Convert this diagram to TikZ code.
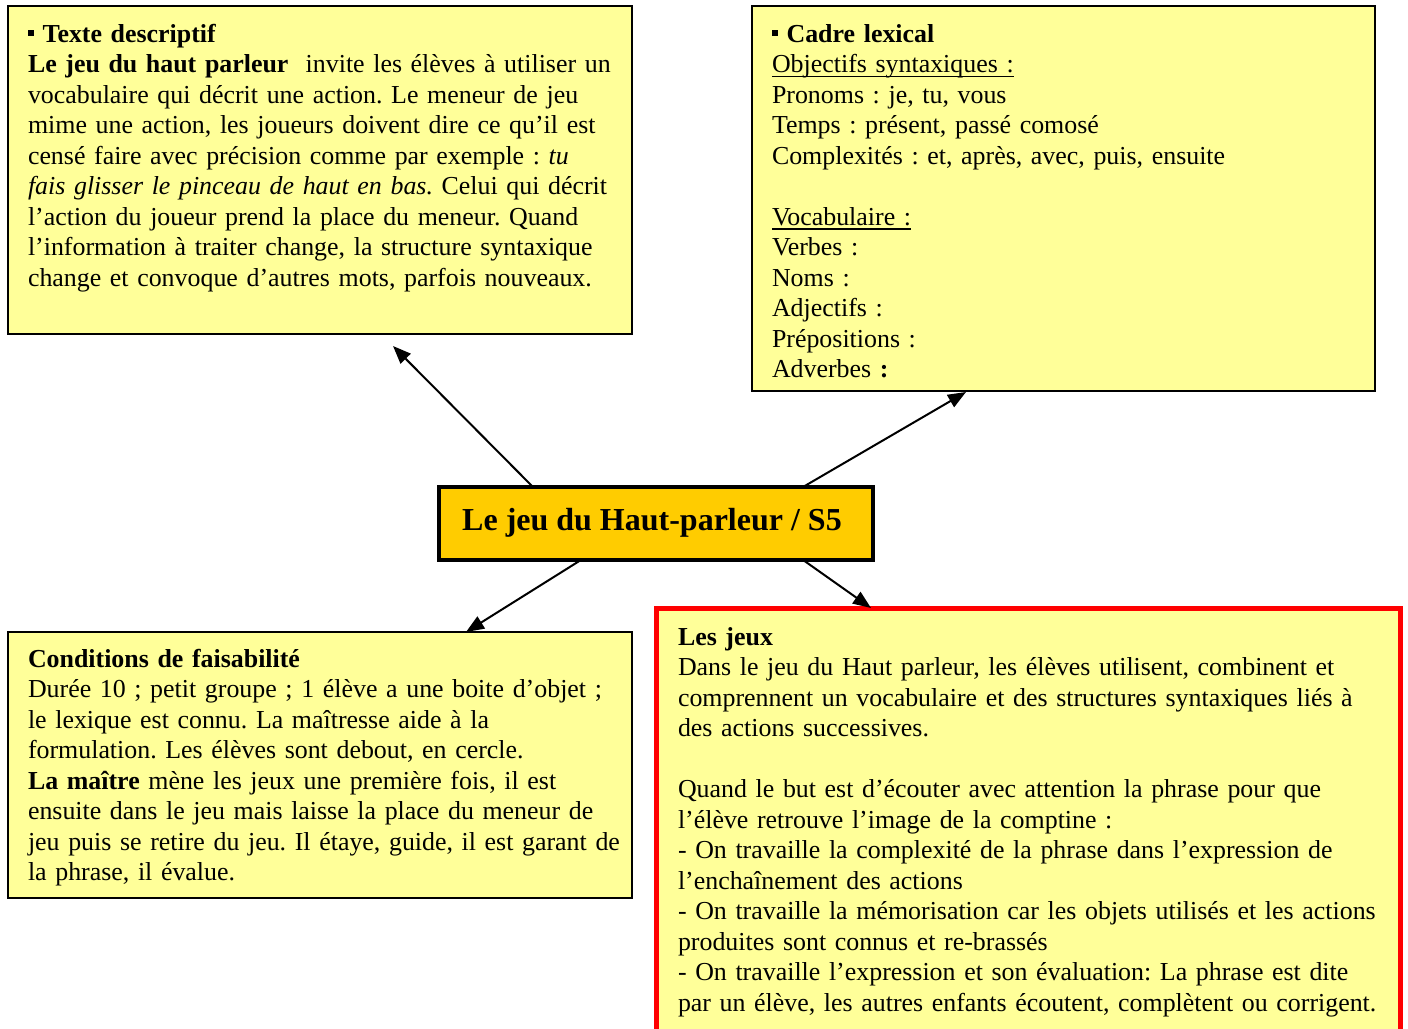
\documentclass[tikz,border=0pt]{standalone}
\usepackage{fontspec}
\setmainfont{Liberation Serif}
\usetikzlibrary{arrows.meta,calc}
\definecolor{paleyellow}{HTML}{FFFF99}
\definecolor{titlegold}{HTML}{FFCC00}
\definecolor{framered}{HTML}{FF0000}
\newdimen\myjw
\newcommand\mybody{\fontsize{25.9pt}{30.5pt}\selectfont\frenchspacing\spaceskip=0.25em plus 0.4em minus 0.08em\xspaceskip=\spaceskip\hyphenpenalty=10000\exhyphenpenalty=10000\tolerance=10000\relax}
\newcommand\mysq{\rule[0.25em]{0.23em}{0.23em}}
\newcommand\myul[1]{\setbox0\hbox{#1}\leavevmode\rlap{\rule[-4.6pt]{\wd0}{1.5pt}}\box0}
\newcommand\jl[1]{\par\hbox to\myjw{#1}}
\begin{document}
\begin{tikzpicture}[x=1pt,y=-1pt,
  panel/.style={draw=black, line width=2pt, fill=paleyellow, inner sep=0pt, outer sep=0pt, anchor=north west},
  body/.style={inner sep=0pt, outer sep=0pt, anchor=base west, text width=#1, font=\mybody},
  link/.style={line width=2pt, -{Triangle[length=18pt,width=14pt]}}
]
\useasboundingbox[fill=white] (0,0) rectangle (1408,1028);

% boxes
\node[panel, minimum width=624pt, minimum height=328pt] (b1) at (8,6) {};
\node[panel, minimum width=623pt, minimum height=385pt] (b2) at (752,6) {};
\node[panel, minimum width=624pt, minimum height=266pt] (b4) at (8,632) {};
\node[panel, draw=framered, line width=5pt, minimum width=744pt, minimum height=440pt] (b5) at (656,608) {};
\node[panel, fill=titlegold, line width=4pt, minimum width=434pt, minimum height=73pt] (c) at (439,487) {};

% title
\node[inner sep=0pt, anchor=base west, font=\fontsize{32pt}{36pt}\selectfont\bfseries] (ct) at (462,530) {Le jeu du Haut-parleur / S5};

% texts
\node[body=583pt] (t1) at (28,42) {\myjw=583pt\relax
{\bfseries\mysq\ Texte descriptif}
\jl{\textbf{Le jeu du haut parleur}\ \ invite les élèves à utiliser un}
\jl{vocabulaire qui décrit une action. Le meneur de jeu}
\jl{mime une action, les joueurs doivent dire ce qu’il est}
\jl{censé faire avec précision comme par exemple : \textit{tu}}
\jl{\textit{fais glisser le pinceau de haut en bas.} Celui qui décrit}
\jl{l’action du joueur prend la place du meneur. Quand}
\jl{l’information à traiter change, la structure syntaxique}
\par change et convoque d’autres mots, parfois nouveaux.};

\node[body=583pt] (t2) at (772,42) {%
{\bfseries\mysq\ Cadre lexical}\\
\myul{Objectifs syntaxiques :}\\
Pronoms : je, tu, vous\\
Temps : présent, passé comosé\\
Complexités : et, après, avec, puis, ensuite\\[30.5pt]
\myul{Vocabulaire :}\\
Verbes :\\
Noms :\\
Adjectifs :\\
Prépositions :\\
Adverbes \textbf{:}};

\node[body=583pt] (t4) at (28,667) {\myjw=583pt\relax
\textbf{Conditions de faisabilité}
\jl{Durée 10 ; petit groupe ; 1 élève a une boite d’objet ;}
\jl{le lexique est connu. La maîtresse aide à la}
\par formulation. Les élèves sont debout, en cercle.
\jl{\textbf{La maître} mène les jeux une première fois, il est}
\jl{ensuite dans le jeu mais laisse la place du meneur de}
\jl{jeu puis se retire du jeu. Il étaye, guide, il est garant de}
\par la phrase, il évalue.};

\node[body=700pt] (t5) at (678,645) {\myjw=700pt\relax
\textbf{Les jeux}
\jl{Dans le jeu du Haut parleur, les élèves utilisent, combinent et}
\jl{comprennent un vocabulaire et des structures syntaxiques liés à}
\par des actions successives.\par
\vspace{30.5pt}
\jl{Quand le but est d’écouter avec attention la phrase pour que}
\par l’élève retrouve l’image de la comptine :
\jl{- On travaille la complexité de la phrase dans l’expression de}
\par l’enchaînement des actions
\jl{- On travaille la mémorisation car les objets utilisés et les actions}
\par produites sont connus et re-brassés
\jl{- On travaille l’expression et son évaluation: La phrase est dite}
\jl{par un élève, les autres enfants écoutent, complètent ou corrigent.}};

% connectors
\draw[link] ($(c.north west)!0.2166!(c.north east)$) -- ($(b1.south west)!0.617!(b1.south east)+(0,12)$);
\draw[link] ($(c.north west)!0.8387!(c.north east)$) -- ($(b2.south west)!0.3435!(b2.south east)+(0,1)$);
\draw[link] ($(c.south west)!0.327!(c.south east)$) -- ($(b4.north west)!0.734!(b4.north east)$);
\draw[link] ($(c.south west)!0.839!(c.south east)$) -- ($(b5.north west)!0.289!(b5.north east)$);
\end{tikzpicture}
\end{document}
